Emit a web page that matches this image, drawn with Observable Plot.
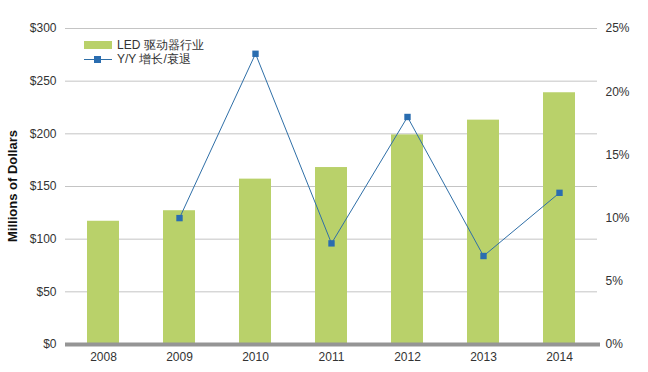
<!DOCTYPE html>
<html>
<head>
<meta charset="utf-8">
<script src="https://cdn.jsdelivr.net/npm/d3@7"></script>
<script src="https://cdn.jsdelivr.net/npm/@observablehq/plot@0.6"></script>
<style>
  html, body { margin: 0; padding: 0; background: #fff; }
  #wrap { position: relative; width: 648px; height: 372px; font-family: "Liberation Sans", Arial, sans-serif; }
  .legend { position: absolute; left: 84px; top: 38px; font-size: 12px; color: #333; line-height: 14px; }
  .legend .row { display: flex; align-items: center; height: 14px; }
  .sw { width: 28px; height: 8px; background: #b9d16a; margin-right: 5px; }
  .ln { position: relative; width: 28px; height: 1px; background: #2f6fa7; margin-right: 5px; }
  .ln::after { content: ""; position: absolute; left: 10px; top: -3px; width: 7px; height: 7px; background: #2a6db0; }
</style>
</head>
<body>
<div id="wrap">
  <div class="legend">
    <div class="row"><div class="sw"></div><span>LED 驱动器行业</span></div>
    <div class="row"><div class="ln"></div><span>Y/Y 增长/衰退</span></div>
  </div>
</div>
<script>
const years = ["2008","2009","2010","2011","2012","2013","2014"];
const revenue = [117, 127, 157, 168, 199, 213, 239];
const growthYears = ["2009","2010","2011","2012","2013","2014"];
const growthPct = [10, 23, 8, 18, 7, 12];
const dollarTicks = [0, 50, 100, 150, 200, 250, 300];
const pctTicks = [0, 5, 10, 15, 20, 25];

const pctToDollar = 12; // 25% aligned with $300

const bars = years.map((y, i) => ({year: y, value: revenue[i]}));
const line = growthYears.map((y, i) => ({year: y, v: growthPct[i] * pctToDollar}));

const chart = Plot.plot({
  width: 648,
  height: 372,
  marginLeft: 65,
  marginRight: 51,
  marginTop: 28,
  marginBottom: 28,
  style: {fontFamily: "Liberation Sans, Arial, sans-serif", fontSize: "12px", color: "#333", background: "#fff"},
  x: {domain: years, paddingInner: 0.58, paddingOuter: 0.29, label: null},
  y: {domain: [0, 300], label: null},
  marks: [
    Plot.gridY(dollarTicks.filter(d => d > 0), {stroke: "#c4c4c4", strokeOpacity: 1, strokeWidth: 1}),
    Plot.barY(bars, {x: "year", y: "value", fill: "#b9d16a"}),
    Plot.ruleY([0], {stroke: "#959595", strokeWidth: 4, insetRight: -3}),
    Plot.line(line, {x: "year", y: "v", stroke: "#2f6fa7", strokeWidth: 1}),
    Plot.dot(line, {x: "year", y: "v", symbol: "square", fill: "#2a6db0", r: 3.6}),
    Plot.axisX({tickSize: 0, tickPadding: 8, fontSize: 12}),
    Plot.axisY({ticks: dollarTicks, tickSize: 0, tickPadding: 9, tickFormat: d => "$" + d, label: null}),
    Plot.axisY({anchor: "right", ticks: pctTicks.map(p => p * pctToDollar), tickSize: 0, tickPadding: 8,
      tickFormat: d => (d / pctToDollar) + "%", label: null})
  ]
});
document.getElementById("wrap").prepend(chart);
chart.style.position = "absolute";
chart.style.left = "0";
chart.style.top = "0";

// y-axis title
const svg = d3.select(chart);
svg.append("text")
  .attr("transform", "translate(17,186) rotate(-90)")
  .attr("text-anchor", "middle")
  .attr("font-weight", "bold")
  .attr("font-size", 13)
  .attr("fill", "#111")
  .text("Millions of Dollars");
</script>
</body>
</html>
